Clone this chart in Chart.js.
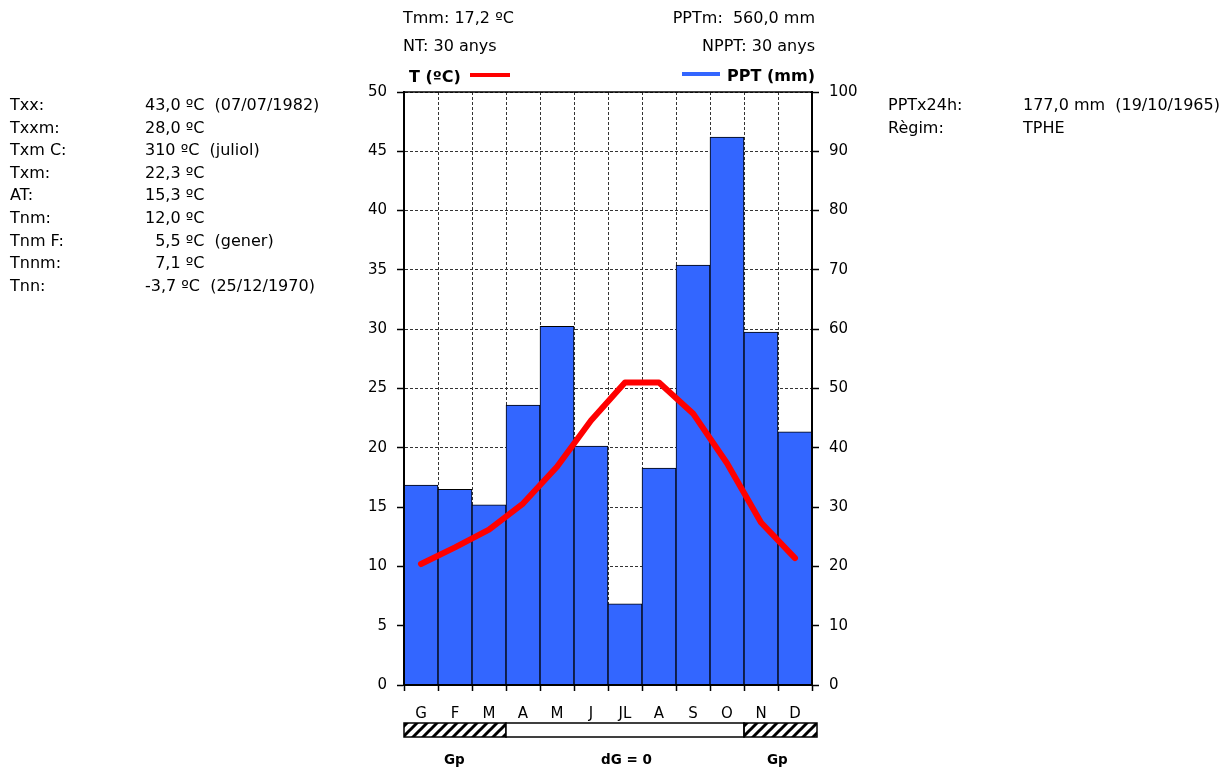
<!DOCTYPE html>
<html>
<head>
<meta charset="utf-8">
<script src="https://cdn.jsdelivr.net/npm/chart.js@4/dist/chart.umd.min.js"></script>
<style>
  body { margin: 0; background: #fff; }
  #wrap { position: relative; width: 1226px; height: 767px; font-family: "DejaVu Sans", sans-serif; font-size: 16px; color: #000; }
  #wrap canvas { position: absolute; left: 0; top: 0; }
  .t { position: absolute; white-space: pre; line-height: 18px; }
  .r { text-align: right; }
  .b { font-weight: bold; }
  .key { position: absolute; height: 4px; }
</style>
</head>
<body>
<div id="wrap">
  <canvas id="c" width="1226" height="767"></canvas>

  <!-- header -->
  <div class="t" style="left:403px;top:9px">Tmm: 17,2 ºC</div>
  <div class="t r" style="right:411px;top:9px">PPTm:  560,0 mm</div>
  <div class="t" style="left:403px;top:37px">NT: 30 anys</div>
  <div class="t r" style="right:411px;top:37px">NPPT: 30 anys</div>
  <div class="t b" style="left:409px;top:68px;font-size:16px">T (ºC)</div>
  <div class="key" style="left:470px;top:73px;width:40px;background:#ff0000"></div>
  <div class="key" style="left:682px;top:72px;width:38px;background:#3366ff"></div>
  <div class="t b r" style="right:411px;top:67px;font-size:16px">PPT (mm)</div>

  <!-- left stats -->
  <div id="statsL"></div>
  <!-- right stats -->
  <div id="statsR"></div>

  <!-- strip labels -->
  <div class="t b" style="left:444px;top:750px;font-size:13.5px">Gp</div>
  <div class="t b" style="left:601px;top:750px;font-size:13.5px">dG = 0</div>
  <div class="t b" style="left:767px;top:750px;font-size:13.5px">Gp</div>
</div>

<script>
// monthly climate data
const months = ['G', 'F', 'M', 'A', 'M', 'J', 'JL', 'A', 'S', 'O', 'N', 'D'];
const ppt = [33.7, 33.0, 30.4, 47.2, 60.5, 40.3, 13.7, 36.6, 70.8, 92.4, 59.5, 42.7];
const temp = [10.2, 11.6, 13.1, 15.3, 18.4, 22.3, 25.5, 25.5, 22.9, 18.7, 13.7, 10.7];
const frost = [1, 1, 1, 0, 0, 0, 0, 0, 0, 0, 1, 1];   // Gp months (hatched)

const statLabels = ['Txx:', 'Txxm:', 'Txm C:', 'Txm:', 'AT:', 'Tnm:', 'Tnm F:', 'Tnnm:', 'Tnn:'];
const statValues = ['43,0 ºC  (07/07/1982)', '28,0 ºC', '310 ºC  (juliol)', '22,3 ºC', '15,3 ºC',
  '12,0 ºC', '\u20075,5 ºC  (gener)', '\u20077,1 ºC', '-3,7 ºC  (25/12/1970)'];
const pptLabels = ['PPTx24h:', 'Règim:'];
const pptValues = ['177,0 mm  (19/10/1965)', 'TPHE'];

function statBlock(el, labels, values, x1, x2) {
  labels.forEach((l, i) => {
    const top = 96 + i * 22.6;
    el.insertAdjacentHTML('beforeend',
      `<div class="t" style="left:${x1}px;top:${top}px">${l}</div>` +
      `<div class="t" style="left:${x2}px;top:${top}px">${values[i]}</div>`);
  });
}
statBlock(document.getElementById('statsL'), statLabels, statValues, 10, 145);
statBlock(document.getElementById('statsR'), pptLabels, pptValues, 888, 1023);

// hatch pattern for the frost strip
function hatch() {
  const p = document.createElement('canvas');
  p.width = 10; p.height = 10;
  const g = p.getContext('2d');
  g.strokeStyle = '#000';
  g.lineWidth = 3;
  g.beginPath();
  g.moveTo(-5, 5); g.lineTo(5, -5);
  g.moveTo(0, 10); g.lineTo(10, 0);
  g.moveTo(5, 15); g.lineTo(15, 5);
  g.stroke();
  return p;
}

const extras = {
  id: 'extras',
  afterDraw(chart) {
    const { ctx, chartArea: a, scales: { x } } = chart;
    ctx.save();
    // top frame line
    ctx.strokeStyle = '#000';
    ctx.lineWidth = 1.5;
    ctx.beginPath();
    ctx.moveTo(a.left, a.top); ctx.lineTo(a.right, a.top);
    ctx.stroke();

    // frost strip under month labels
    const half = (x.getPixelForValue(1) - x.getPixelForValue(0)) / 2;
    const y0 = 723, h = 14;
    const edgeL = i => x.getPixelForValue(i) - half;
    const edgeR = i => i === months.length - 1 ? a.right + 5 : x.getPixelForValue(i) + half;
    const pat = ctx.createPattern(hatch(), 'repeat');
    let i = 0;
    while (i < frost.length) {
      let j = i;
      while (j + 1 < frost.length && frost[j + 1] === frost[i]) j++;
      const xl = edgeL(i), xr = edgeR(j);
      ctx.fillStyle = frost[i] ? pat : '#fff';
      ctx.fillRect(xl, y0, xr - xl, h);
      ctx.lineWidth = 1.5;
      ctx.strokeRect(xl, y0, xr - xl, h);
      i = j + 1;
    }
    ctx.restore();
  }
};

const tickFont = { family: 'DejaVu Sans', size: 15 };

new Chart(document.getElementById('c'), {
  data: {
    labels: months,
    datasets: [
      {
        type: 'line', label: 'T (ºC)', data: temp, yAxisID: 'yT', order: 0,
        borderColor: '#ff0000', borderWidth: 6, pointRadius: 0, tension: 0,
        borderCapStyle: 'round', borderJoinStyle: 'round'
      },
      {
        type: 'bar', label: 'PPT (mm)', data: ppt, yAxisID: 'yP', order: 1,
        backgroundColor: '#3366ff', borderColor: '#000', borderWidth: 1,
        barPercentage: 1, categoryPercentage: 1
      }
    ]
  },
  options: {
    responsive: false,
    animation: false,
    devicePixelRatio: 1,
    layout: { padding: { top: 92, left: 0, right: 0, bottom: 0 } },
    plugins: { legend: { display: false }, tooltip: { enabled: false } },
    scales: {
      x: {
        grid: { offset: true, color: '#333', lineWidth: 1, tickLength: 6, tickColor: '#000', tickWidth: 1.5, tickBorderDash: [] },
        border: { display: true, color: '#000', width: 2, dash: [3, 2], z: 1 },
        ticks: { color: '#000', font: tickFont, padding: 14, maxRotation: 0, autoSkip: false },
        afterFit: s => { s.height = 82; }
      },
      yT: {
        position: 'left', min: 0, max: 50,
        grid: { color: '#333', lineWidth: 1, tickLength: 7, tickColor: '#000', tickWidth: 1.5, tickBorderDash: [] },
        border: { display: true, color: '#000', width: 2, dash: [3, 2], z: 1 },
        ticks: { stepSize: 5, color: '#000', font: tickFont, padding: 10 },
        afterFit: s => { s.width = 404; }
      },
      yP: {
        position: 'right', min: 0, max: 100,
        grid: { drawOnChartArea: false, tickLength: 7, tickColor: '#000', tickWidth: 1.5 },
        border: { display: true, color: '#000', width: 2, z: 1 },
        ticks: { stepSize: 10, color: '#000', font: tickFont, padding: 10 },
        afterFit: s => { s.width = 414; }
      }
    }
  },
  plugins: [extras]
});
</script>
</body>
</html>
